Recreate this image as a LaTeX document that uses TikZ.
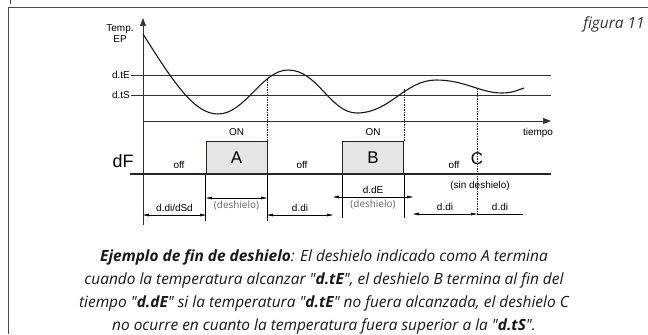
\documentclass[tikz,border=0pt]{standalone}
\usepackage{fontspec}
\setmainfont{Liberation Sans}
\newfontfamily\legende{Open Sans}
\usetikzlibrary{arrows.meta}

\begin{document}
\begin{tikzpicture}[x=1bp,y=-1bp,
  every node/.style={font=\fontsize{10}{11}\selectfont,inner sep=1bp},
  trait/.style={line width=0.6bp,black!80},
  cote/.style={line width=0.5bp,{Triangle[length=6bp,width=2.6bp]}-{Triangle[length=6bp,width=2.6bp]}},
  pointille/.style={dash pattern=on 1.5bp off 1bp,line width=0.7bp,black!85},
  boite/.style={draw=brown!25!black,fill=black!10,line width=1bp,minimum width=61bp,
    minimum height=33bp,font=\fontsize{17}{17}\selectfont},
  gris/.style={text=black!60,font=\legende\fontsize{10}{11}\selectfont}]

\useasboundingbox (0,0) rectangle (648,334);

%le cadre
\draw[line width=0.8bp,black!70] (648,7)--(8,7)--(8,334);
\draw[line width=0.8bp,black!70] (10,0)--(10,4);
\node (fig) [text=black!80,font=\legende\itshape\fontsize{15.5}{16}\selectfont] at (614,24) {figura 11};

%les axes
\coordinate (O) at (143,121);
\coordinate (haut) at (143,18);
\coordinate (bas) at (143,225);
\coordinate (fin) at (551,121);
\draw[trait,-{Triangle[length=8bp,width=6bp]}] (bas)--(haut);
\draw[trait,-{Triangle[length=8bp,width=6bp]}] (O)--(fin);
\node (temp) [align=center] at (120,34) {Temp.\\EP};
\node (dtE) [left] at (131,75) {d.tE};
\node (dtS) [left] at (131,95) {d.tS};
\draw[trait] (dtE.east)--(dtE.east -| fin);
\draw[trait] (dtS.east)--(dtS.east -| fin);
\node (tiempo) at (538,133) {tiempo};

%la courbe
\draw[line width=1.1bp,black!90] (143,34) .. controls (175,85) and (195,114) .. (218,114)
  .. controls (245,114) and (262,70) .. (288,70)
  .. controls (318,70) and (330,113) .. (357,113)
  .. controls (390,113) and (405,80) .. (436,80)
  .. controls (465,80) and (480,93) .. (502,93)
  .. controls (512,93) and (518,90) .. (524,88);

%le degivrage
\node (dF) [font=\fontsize{18}{18}\selectfont] at (123,161) {dF};
\node (A) [boite] at (236.5,157.5) {A};
\node (B) [boite] at (373,157.5) {B};
\node (onA) at (236.5,132) {ON};
\node (onB) at (373,132) {ON};
\node (off1) at (179,165) {off};
\node (off2) at (302,165) {off};
\node (off3) at (454,165) {off};
\node (C) [font=\fontsize{17}{17}\selectfont] at (477,159) {C};
\draw[line width=1.3bp,black!85] (130,174)--(551,174);
\draw[pointille] (A.north east)--(A.north east |- 0,79);
\draw[pointille] (B.north east)--(B.north east |- 0,88);
\draw[pointille] (477,88)--(477,215);

%les cotes
\draw[line width=0.5bp] (A.south west)--++(0,46) (A.south east)--++(0,46);
\draw[line width=0.5bp] (B.south west)--++(0,43) (B.south east)--++(0,43);
\draw[cote] (143,215)--(206,215) node (t1) [midway,above=2bp] {d.di/dSd};
\draw[cote] (206,198)--(267,198) node (t2) [midway,below=2bp,gris] {(deshielo)};
\draw[cote] (267,215)--(333,215) node (t3) [midway,above=2bp] {d.di};
\draw[cote] (333,197)--(413,197) node (t4) [midway,above=2bp] {d.dE}
  node (t5) [midway,below=2bp,gris] {(deshielo)};
\draw[cote] (413,214)--(477,214) node (t6) [midway,above=2bp] {d.di};
\draw[cote,-] (477,214)--(523,214) node (t7) [midway,above=2bp] {d.di};
\node (sin) at (480,186) {(sin deshielo)};

%la legende
\node (leyenda) [align=center,inner sep=0pt,text=black!90,font=\legende\itshape\fontsize{15.5}{23}\selectfont] at (324,292)
  {\textbf{Ejemplo de fin de deshielo}: El deshielo indicado como A termina\\
   cuando la temperatura alcanzar "\textbf{d.tE}", el deshielo B termina al fin del\\
   tiempo "\textbf{d.dE}" si la temperatura "\textbf{d.tE}" no fuera alcanzada, el deshielo C\\
   no ocurre en cuanto la temperatura fuera superior a la "\textbf{d.tS}".};

\end{tikzpicture}
\end{document}
